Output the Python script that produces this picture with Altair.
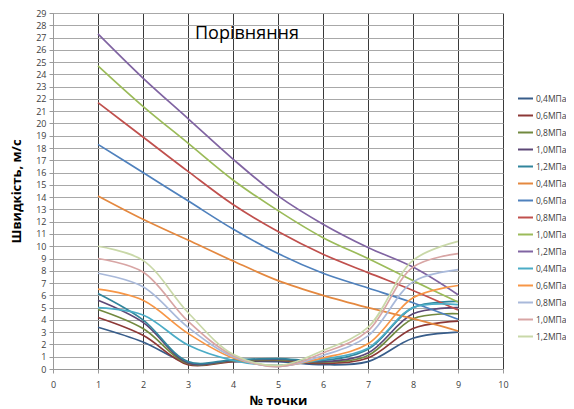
import altair as alt
import pandas as pd

x_points = [1, 2, 3, 4, 5, 6, 7, 8, 9]
labels = ["0,4МПа", "0,6МПа", "0,8МПа", "1,0МПа", "1,2МПа"] * 3
colors = ["#385D8A", "#8C3836", "#71893F", "#5C4776", "#31859C",
          "#E4883F", "#4F81BD", "#C0504D", "#9BBB59", "#8064A2",
          "#4BACC6", "#F79646", "#A9B9DA", "#D8A5A4", "#C9D8A8"]

# group 1 (dark)
s01 = [3.4, 2.2, 0.5, 0.6, 0.6, 0.35, 0.6, 2.5, 3.0]
s02 = [4.2, 2.75, 0.35, 0.6, 0.7, 0.45, 0.9, 3.3, 3.9]
s03 = [4.85, 3.3, 0.45, 0.65, 0.75, 0.55, 1.1, 4.1, 4.5]
s04 = [5.6, 3.8, 0.5, 0.7, 0.8, 0.6, 1.3, 4.5, 5.0]
s05 = [6.15, 4.0, 0.6, 0.75, 0.85, 0.7, 1.6, 5.0, 5.5]
# group 2 (decreasing)
s06 = [14.1, 12.2, 10.5, 8.8, 7.2, 6.0, 5.0, 4.1, 3.1]
s07 = [18.3, 16.0, 13.7, 11.4, 9.4, 7.8, 6.6, 5.4, 4.05]
s08 = [21.7, 18.9, 16.1, 13.4, 11.2, 9.35, 7.85, 6.4, 4.8]
s09 = [24.7, 21.4, 18.4, 15.4, 12.9, 10.7, 9.0, 7.2, 5.45]
s10 = [27.3, 23.7, 20.4, 17.1, 14.1, 11.8, 9.9, 8.3, 6.05]
# group 3 (light)
s11 = [5.0, 4.4, 1.95, 0.7, 0.3, 0.8, 1.7, 5.0, 5.25]
s12 = [6.5, 5.6, 2.9, 0.9, 0.25, 0.9, 2.05, 5.8, 6.8]
s13 = [7.8, 6.7, 3.4, 1.0, 0.2, 1.1, 2.7, 7.1, 8.1]
s14 = [9.0, 7.9, 3.9, 1.1, 0.2, 1.3, 3.1, 8.3, 9.4]
s15 = [10.0, 8.85, 4.6, 1.2, 0.3, 1.5, 3.4, 8.85, 10.4]

series = [s01, s02, s03, s04, s05, s06, s07, s08, s09, s10, s11, s12, s13, s14, s15]
keys = [f"{i+1:02d}|{lab}" for i, lab in enumerate(labels)]

rows = []
for k, vals in zip(keys, series):
    for xv, yv in zip(x_points, vals):
        rows.append({"s": k, "x": xv, "v": yv})
df = pd.DataFrame(rows)

FONT = "Open Sans"

chart = alt.Chart(df).mark_line(interpolate="catmull-rom", strokeWidth=1.7).encode(
    x=alt.X("x:Q",
            scale=alt.Scale(domain=[0, 10], nice=False, zero=False),
            axis=alt.Axis(values=list(range(11)), title="№ точки", grid=True,
                          gridColor="#3A3A3A", gridWidth=1, gridOpacity=1,
                          domainColor="#9A9A9A", tickColor="#9A9A9A", tickSize=4,
                          labelFontSize=9, labelColor="#404040", labelFont=FONT,
                          labelPadding=7, labelFlush=False,
                          titleFontSize=13, titleFontWeight="bold", titleFont=FONT,
                          titleColor="#000000", titlePadding=5)),
    y=alt.Y("v:Q",
            scale=alt.Scale(domain=[0, 29], nice=False),
            axis=alt.Axis(values=list(range(30)), title="Швидкість, м/с", grid=True,
                          gridColor="#A8A8A8", gridWidth=1, gridOpacity=1,
                          domainColor="#9A9A9A", tickColor="#9A9A9A", tickSize=4,
                          labelFontSize=9, labelColor="#404040", labelFont=FONT,
                          labelPadding=3, labelFlush=False,
                          titleFontSize=13, titleFontWeight="bold", titleFont=FONT,
                          titleColor="#000000", titlePadding=12)),
    color=alt.Color("s:N",
                    scale=alt.Scale(domain=keys, range=colors),
                    legend=alt.Legend(title=None, orient="none", legendX=464, legendY=77,
                                      symbolType="stroke", symbolSize=225, symbolStrokeWidth=2,
                                      labelExpr="split(datum.label, '|')[1]",
                                      labelFontSize=8.5, labelColor="#404040", labelFont=FONT,
                                      labelOffset=2, rowPadding=4)),
).properties(
    width=450,
    height=356,
    title=alt.TitleParams("Порівняння", anchor="start", frame="group", dx=142, dy=38,
                          fontSize=18, fontWeight="normal", font=FONT, color="#000000"),
    autosize=alt.AutoSizeParams(type="none"),
    padding={"left": 45, "top": 5, "right": 63, "bottom": 42},
).configure_view(stroke=None)

chart.save("out.html", embed_options={"renderer": "svg", "actions": False})
